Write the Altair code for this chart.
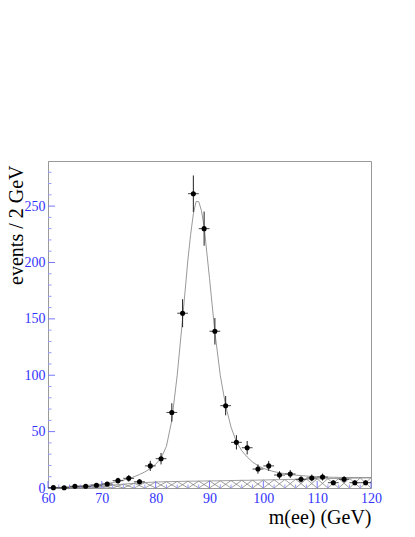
import altair as alt
import pandas as pd
import numpy as np

# data points (bin centres, 2 GeV bins)
mass = [61, 63, 65, 67, 69, 71, 73, 75, 77, 79, 81, 83, 85, 87, 89,
        91, 93, 95, 97, 99, 101, 103, 105, 107, 109, 111, 113, 115, 117, 119]
events = [0.3, 0.2, 1.5, 1.5, 2.5, 3.5, 6.5, 8.6, 5.5, 19.6, 26, 67, 155, 261, 230,
          139, 73, 40.5, 35.7, 16.8, 19.6, 11.5, 12.4, 7.7, 8.9, 9.7, 4.7, 7.7, 4.7, 4.7]

# fitted total curve
curve_x = [60, 61, 62, 63, 64, 65, 66, 67, 68, 69, 70, 71, 72, 73, 74, 75, 76, 77, 78, 79,
           80, 81, 82, 83, 84, 85, 86, 86.5, 87, 87.5, 88, 88.5, 89, 90, 91, 92, 93, 94, 95,
           96, 97, 98, 99, 100, 101, 102, 103, 104, 105, 106, 107, 108, 109, 110, 111, 112,
           113, 114, 115, 116, 117, 118, 119, 120]
curve_y = [0.3, 0.4, 0.6, 0.8, 1.1, 1.4, 1.8, 2.2, 2.7, 3.0, 3.4, 4.0, 4.8, 5.8, 7.0, 8.4,
           10.0, 12.0, 14.3, 17.2, 21, 26.5, 37, 60, 100, 150, 203, 225, 243, 254, 254, 246,
           232, 186, 138, 100, 73, 54, 41, 33, 27.5, 23, 19.8, 17.5, 15.8, 14.5, 13.5, 12.7,
           12.0, 11.4, 11.0, 10.6, 10.3, 10.0, 9.8, 9.6, 9.5, 9.4, 9.3, 9.3, 9.2, 9.2, 9.2, 9.2]

# background component (hatched) at bin edges
bg_x = [60, 62, 64, 66, 68, 70, 72, 74, 76, 78, 80, 82, 84, 86, 88, 90, 92, 94, 96, 98,
        100, 102, 104, 106, 108, 110, 112, 114, 116, 118, 120]
bg_y = [0, 0.1, 0.3, 0.6, 1.1, 1.8, 2.6, 3.4, 4.2, 4.8, 5.3, 5.6, 5.8, 6.0, 6.1, 6.3,
        6.4, 6.6, 6.8, 6.9, 7.1, 7.3, 7.5, 7.7, 7.9, 8.1, 8.3, 8.5, 8.7, 8.9, 9.1]

x_major = [60, 70, 80, 90, 100, 110, 120]
x_minor = [62, 64, 66, 68, 72, 74, 76, 78, 82, 84, 86, 88, 92, 94, 96, 98,
           102, 104, 106, 108, 112, 114, 116, 118]
y_major = [0, 50, 100, 150, 200, 250]
y_minor = [10, 20, 30, 40, 60, 70, 80, 90, 110, 120, 130, 140, 160, 170, 180, 190,
           210, 220, 230, 240, 260, 270, 280]

W, H = 323, 327
FONT = "Liberation Serif"
BLUE = "#3333ff"

pts = pd.DataFrame({"m": mass, "n": events})
pts["lo"] = pts["n"] - np.sqrt(pts["n"])
pts["hi"] = pts["n"] + np.sqrt(pts["n"])
pts["xl"] = pts["m"] - 1
pts["xh"] = pts["m"] + 1

curve = pd.DataFrame({"m": curve_x, "n": curve_y})
bg = pd.DataFrame({"m": bg_x, "n": bg_y})

segs = []
for i in range(len(bg_x) - 1):
    segs.append({"x": bg_x[i], "y": 0, "x2": bg_x[i + 1], "y2": bg_y[i + 1]})
    segs.append({"x": bg_x[i], "y": bg_y[i], "x2": bg_x[i + 1], "y2": 0})
segs = pd.DataFrame(segs)

xs = alt.Scale(domain=[60, 120], nice=False, zero=False)
ys = alt.Scale(domain=[0, 290], nice=False)

xaxis = alt.Axis(values=x_major, title="m(ee) (GeV)", titleX=W, titleY=35,
                 titleAlign="right", titleAnchor="end", titleBaseline="alphabetic",
                 labelPadding=3, labelFlush=False, labelOverlap=False)
yaxis = alt.Axis(values=y_major, title="events / 2 GeV", titleX=-26, titleY=4,
                 titleAlign="right", titleAnchor="end", titleBaseline="alphabetic",
                 titleAngle=-90, labelPadding=3, labelFlush=False, labelOverlap=False)

base_x = alt.X("m:Q", scale=xs, axis=xaxis)
base_y = alt.Y("n:Q", scale=ys, axis=yaxis)

hatch = alt.Chart(segs).mark_rule(color="#777777", strokeWidth=0.7).encode(
    x=alt.X("x:Q", scale=xs), x2="x2:Q", y=alt.Y("y:Q", scale=ys), y2="y2:Q")
bgline = alt.Chart(bg).mark_line(color="#888888", strokeWidth=0.8).encode(
    x=alt.X("m:Q", scale=xs), y=alt.Y("n:Q", scale=ys))
curve_l = alt.Chart(curve).mark_line(color="#999999", strokeWidth=1).encode(
    x=base_x, y=base_y)
vbar = alt.Chart(pts).mark_rule(color="#222222", strokeWidth=1).encode(
    x=alt.X("m:Q", scale=xs), y=alt.Y("lo:Q", scale=ys), y2="hi:Q")
hbar = alt.Chart(pts).mark_rule(color="#444444", strokeWidth=1).encode(
    x=alt.X("xl:Q", scale=xs), x2="xh:Q", y=alt.Y("n:Q", scale=ys))
dots = alt.Chart(pts).mark_circle(color="black", size=26, opacity=1).encode(
    x=alt.X("m:Q", scale=xs), y=alt.Y("n:Q", scale=ys))

ym = alt.Chart(pd.DataFrame({"v": y_major})).mark_rule(color="#7777ff", strokeWidth=1).encode(
    y=alt.Y("v:Q", scale=ys), x=alt.value(0), x2=alt.value(7))
yn = alt.Chart(pd.DataFrame({"v": y_minor})).mark_rule(color="#9999ff", strokeWidth=1).encode(
    y=alt.Y("v:Q", scale=ys), x=alt.value(0), x2=alt.value(3.5))
xm = alt.Chart(pd.DataFrame({"v": x_major})).mark_rule(color="#7777ff", strokeWidth=1).encode(
    x=alt.X("v:Q", scale=xs), y=alt.value(H), y2=alt.value(H - 7))
xn = alt.Chart(pd.DataFrame({"v": x_minor})).mark_rule(color="#9999ff", strokeWidth=1).encode(
    x=alt.X("v:Q", scale=xs), y=alt.value(H), y2=alt.value(H - 3.5))

chart = alt.layer(curve_l, hatch, bgline, ym, yn, xm, xn, vbar, hbar, dots).properties(
    width=W, height=H,
    autosize=alt.AutoSizeParams(type="none"),
    padding={"left": 40, "top": 153, "right": 36, "bottom": 41},
).configure_view(stroke="#999999", strokeWidth=1).configure_axis(
    labelFont=FONT, titleFont=FONT, labelColor=BLUE, labelFontSize=14,
    titleFontSize=20, titleFontWeight="normal", titleColor="black",
    ticks=False, grid=False, domainColor="#999999", domainWidth=1,
)

chart.save("out.html", embed_options={"renderer": "svg", "actions": False})
